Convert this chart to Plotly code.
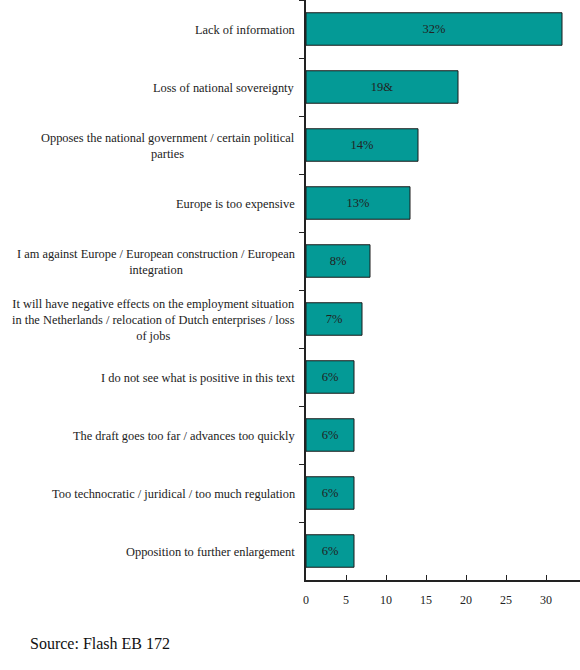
import plotly.graph_objects as go

categories = [
    "Lack of information",
    "Loss of national sovereignty",
    "Opposes the national government / certain political<br>parties",
    "Europe is too expensive",
    "I am against Europe / European construction / European<br>integration",
    "It will have negative effects on the employment situation<br>in the Netherlands / relocation of Dutch enterprises / loss<br>of jobs",
    "I do not see what is positive in this text",
    "The draft goes too far / advances too quickly",
    "Too technocratic / juridical / too much regulation",
    "Opposition to further enlargement",
]
values = [32, 19, 14, 13, 8, 7, 6, 6, 6, 6]
bar_labels = ["32%", "19&", "14%", "13%", "8%", "7%", "6%", "6%", "6%", "6%"]
x_ticks = [0, 5, 10, 15, 20, 25, 30]

serif = "Liberation Serif, DejaVu Serif, serif"

W, H = 580, 670
ML, MR, MT, MB = 306, 0, 0, 90
PW, PH = W - ML - MR, H - MT - MB

fig = go.Figure()
fig.add_trace(go.Bar(
    x=values,
    y=categories,
    orientation="h",
    marker=dict(color="#049a96", line=dict(color="#1a1a1a", width=1)),
    width=0.56,
    text=bar_labels,
    textposition="inside",
    insidetextanchor="middle",
    textfont=dict(family=serif, size=12.5, color="#222222"),
    hoverinfo="skip",
))

for c in categories:
    fig.add_annotation(
        x=0, xref="paper", y=c, yref="y",
        text=c, showarrow=False,
        xanchor="right", yanchor="middle", align="center",
        xshift=-9, yshift=-1,
        font=dict(family=serif, size=12.4, color="#222222"),
    )

fig.add_annotation(
    x=(28 - ML) / PW, xref="paper", y=(PH - 643 + MT) / PH, yref="paper",
    text="Source: Flash EB 172", showarrow=False,
    xanchor="left", yanchor="middle",
    font=dict(family="Liberation Serif, Times New Roman, serif", size=16, color="#111111"),
)

fig.update_layout(
    width=W, height=H,
    margin=dict(l=ML, r=MR, t=MT, b=MB),
    paper_bgcolor="white", plot_bgcolor="white",
    showlegend=False,
    bargap=0.44,
)
fig.update_xaxes(
    range=[0, 34.25],
    tickvals=x_ticks,
    ticks="inside", ticklen=5, tickcolor="#222222",
    showline=True, linecolor="#222222", linewidth=1.5,
    showgrid=False, zeroline=False,
    tickfont=dict(family=serif, size=12, color="#222222"),
    ticklabelstandoff=8,
)
fig.update_yaxes(
    autorange="reversed",
    tickson="boundaries",
    ticks="outside", ticklen=5, tickcolor="#222222",
    showticklabels=False,
    showline=True, linecolor="#222222", linewidth=1.5,
    showgrid=False, zeroline=False,
)

fig.write_html("out.html")
